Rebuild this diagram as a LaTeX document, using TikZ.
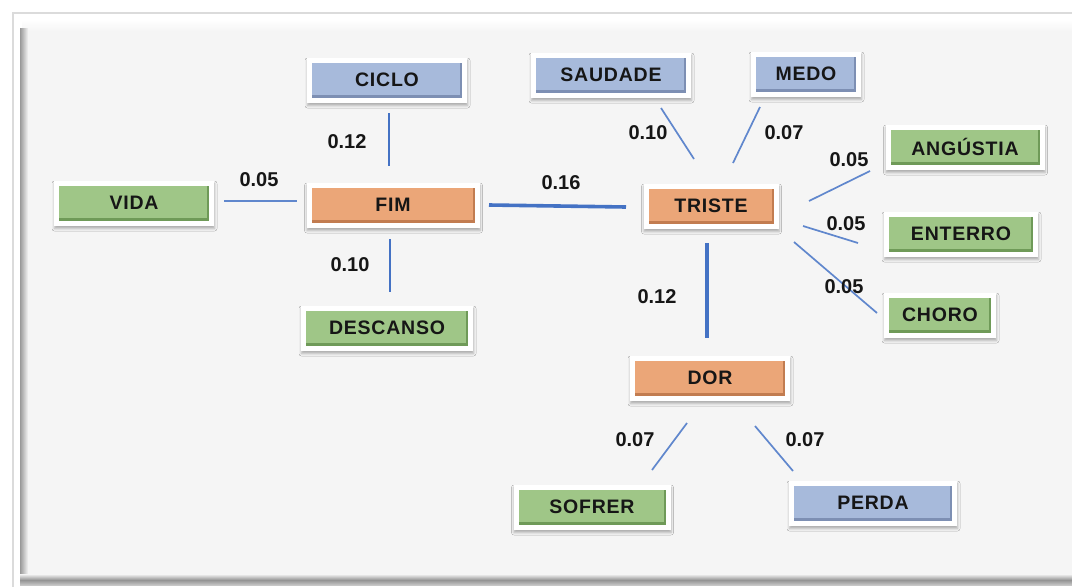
\documentclass[tikz,border=0pt]{standalone}
\usepackage{fontspec}
\setmainfont{Liberation Sans}
\newfontfamily\wordfont[LetterSpace=4]{Liberation Sans}
\usetikzlibrary{shadows.blur}

\definecolor{panel}{HTML}{F5F5F5}
\definecolor{bluef}{HTML}{A7BADB}
\definecolor{blued}{HTML}{7D8FB3}
\definecolor{greenf}{HTML}{9FC687}
\definecolor{greend}{HTML}{6F9A58}
\definecolor{orangef}{HTML}{EBA678}
\definecolor{oranged}{HTML}{C27C50}
\definecolor{linkblue}{HTML}{4472C4}
\definecolor{ink}{HTML}{161616}

% coloured face inside a white rim, with a darker bottom and right bevel
\newcommand\facepic[2]{%
  \fill[#1] ([shift={(5pt,5pt)}]path picture bounding box.south west)
    rectangle ([shift={(-5pt,-5pt)}]path picture bounding box.north east);
  \fill[#2] ([shift={(5pt,5pt)}]path picture bounding box.south west)
    rectangle ([shift={(-5pt,8pt)}]path picture bounding box.south east);
  \fill[#2] ([shift={(-7pt,5pt)}]path picture bounding box.south east)
    rectangle ([shift={(-5pt,-5pt)}]path picture bounding box.north east);
}

\tikzset{
  x=1pt, y=-1pt,
  wordbox/.style={fill=white, inner sep=0pt, minimum height=45pt,
    text=ink, font=\fontsize{19.5}{22}\wordfont\bfseries,
    blur shadow={shadow xshift=0.5pt, shadow yshift=-3pt,
      shadow blur radius=2.5pt, shadow opacity=30}},
  bluebox/.style={wordbox, path picture={\facepic{bluef}{blued}}},
  greenbox/.style={wordbox, path picture={\facepic{greenf}{greend}}},
  orangebox/.style={wordbox, path picture={\facepic{orangef}{oranged}}},
  link/.style={draw=linkblue!85, line width=1.7pt},
  linkmid/.style={draw=linkblue, line width=2.2pt},
  linkbold/.style={draw=linkblue, line width=2.8pt},
  linkheavy/.style={draw=linkblue, line width=3.6pt},
  weight/.style={inner sep=0pt, text=ink, font=\fontsize{20}{22}\selectfont\bfseries},
}

\begin{document}
\begin{tikzpicture}
% page and framed panel
\useasboundingbox (0,0) rectangle (1072,587);
\fill[white] (0,0) rectangle (1072,587);
\draw[black!14, line width=2.5pt] (1072,13) -- (13,13) -- (13,587);
\shade[top color=white, bottom color=panel] (22,20) rectangle (1072,31);
\fill[panel] (22,31) rectangle (1072,574);
\shade[left color=black!40, right color=panel] (20,28) rectangle (28,578);
\shade[top color=panel, bottom color=black!42] (20,574) rectangle (1072,580);
\shade[top color=black!42, bottom color=black!22] (20,580) rectangle (1072,585);

% words
\node[bluebox,   minimum width=160pt] (ciclo)    at (387,80)  {CICLO};
\node[greenbox,  minimum width=160pt] (vida)     at (134,203) {VIDA};
\node[orangebox, minimum width=173pt] (fim)      at (393,205) {FIM};
\node[greenbox,  minimum width=172pt] (descanso) at (387,328) {DESCANSO};
\node[bluebox,   minimum width=160pt] (saudade)  at (611,75)  {SAUDADE};
\node[bluebox,   minimum width=110pt] (medo)     at (806,74)  {MEDO};
\node[orangebox, minimum width=135pt] (triste)   at (711,206) {TRISTE};
\node[greenbox,  minimum width=159pt] (angustia) at (965,147) {ANGÚSTIA};
\node[greenbox,  minimum width=154pt] (enterro)  at (961,234) {ENTERRO};
\node[greenbox,  minimum width=112pt] (choro)    at (940,315) {CHORO};
\node[orangebox, minimum width=160pt] (dor)      at (710,378) {DOR};
\node[greenbox,  minimum width=157pt] (sofrer)   at (592,507) {SOFRER};
\node[bluebox,   minimum width=168pt] (perda)    at (873,503) {PERDA};

% connector end points
\coordinate (ciclo-a) at (389,113);  \coordinate (ciclo-b) at (389,166);
\coordinate (vida-a) at (224,201);   \coordinate (vida-b) at (297,201);
\coordinate (desc-a) at (390,239);   \coordinate (desc-b) at (390,292);
\coordinate (trist-a) at (489,205);  \coordinate (trist-b) at (626,207);
\coordinate (saud-a) at (661,108);   \coordinate (saud-b) at (694,159);
\coordinate (medo-a) at (760,107);   \coordinate (medo-b) at (733,163);
\coordinate (ang-a) at (870,171);    \coordinate (ang-b) at (809,201);
\coordinate (ent-a) at (803,226);    \coordinate (ent-b) at (858,243);
\coordinate (chor-a) at (794,242);   \coordinate (chor-b) at (877,313);
\coordinate (dor-a) at (707,243);    \coordinate (dor-b) at (707,338);
\coordinate (sof-a) at (687,423);    \coordinate (sof-b) at (652,470);
\coordinate (per-a) at (755,426);    \coordinate (per-b) at (793,471);

% connectors
\draw[linkbold]  (ciclo-a) -- (ciclo-b);
\draw[link]      (vida-a) -- (vida-b);
\draw[linkmid]   (desc-a) -- (desc-b);
\draw[linkheavy] (trist-a) -- (trist-b);
\draw[link]      (saud-a) -- (saud-b);
\draw[link]      (medo-a) -- (medo-b);
\draw[link]      (ang-a) -- (ang-b);
\draw[link]      (ent-a) -- (ent-b);
\draw[link]      (chor-a) -- (chor-b);
\draw[linkheavy] (dor-a) -- (dor-b);
\draw[link]      (sof-a) -- (sof-b);
\draw[link]      (per-a) -- (per-b);

% weights
\node[weight] (w-ciclo) at (347,142) {0.12};
\node[weight] (w-vida)  at (259,180) {0.05};
\node[weight] (w-desc)  at (350,265) {0.10};
\node[weight] (w-trist) at (561,183) {0.16};
\node[weight] (w-saud)  at (648,133) {0.10};
\node[weight] (w-medo)  at (784,133) {0.07};
\node[weight] (w-ang)   at (849,160) {0.05};
\node[weight] (w-ent)   at (846,224) {0.05};
\node[weight] (w-chor)  at (844,287) {0.05};
\node[weight] (w-dor)   at (657,297) {0.12};
\node[weight] (w-sof)   at (635,440) {0.07};
\node[weight] (w-per)   at (805,440) {0.07};
\end{tikzpicture}
\end{document}
